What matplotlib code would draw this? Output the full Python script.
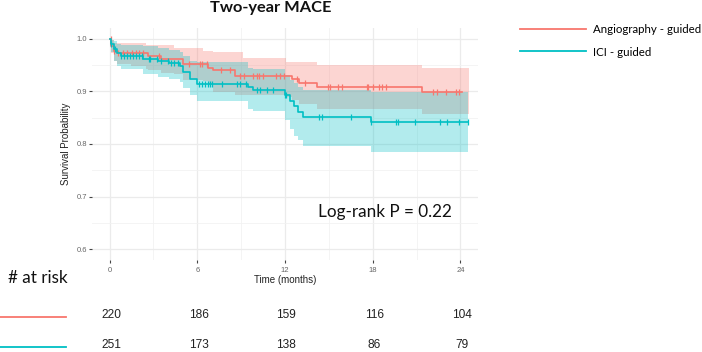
import numpy as np
import matplotlib
matplotlib.use("Agg")
import matplotlib.pyplot as plt
from matplotlib import transforms
from matplotlib.lines import Line2D

# ---- data ----
red_t = [0, 0.1, 0.3, 0.5, 1.5, 2.5, 2.6, 3.5, 4.4, 5.0, 6.4, 6.7, 7.1, 8.6, 9.1,
         12.1, 12.45, 12.95, 14.2, 21.4, 24.1]
red_surv = [1.0, 0.985, 0.977, 0.972, 0.972, 0.972, 0.966, 0.962, 0.962, 0.951, 0.951,
            0.945, 0.940, 0.929, 0.929, 0.929, 0.923, 0.916, 0.908, 0.898, 0.898]
red_upper = [1.0, 0.998, 0.992, 0.992, 0.992, 0.988, 0.988, 0.988, 0.983, 0.983, 0.977,
             0.977, 0.974, 0.974, 0.964, 0.955, 0.955, 0.955, 0.950, 0.944, 0.944]
red_lower = [1.0, 0.972, 0.958, 0.952, 0.948, 0.942, 0.940, 0.935, 0.933, 0.922, 0.920,
             0.912, 0.898, 0.893, 0.892, 0.890, 0.884, 0.875, 0.867, 0.857, 0.857]
red_ci_end = 24.6
red_cens = [0.07, 0.3, 0.6, 0.9, 1.2, 1.55, 1.8, 2.0, 2.3, 3.36, 5.4, 6.2, 6.3, 6.66,
            7.6, 8.25, 8.9, 9.2, 9.84, 10.07, 10.25, 10.5, 11.4, 11.66, 11.9, 12.8,
            13.36, 14.95, 15.05, 15.64, 15.9, 17.6, 17.7, 18.0, 18.4, 18.6, 18.9,
            22.1, 22.4, 23.0, 23.7, 23.9]

cyan_t = [0, 0.1, 0.3, 0.5, 0.75, 2.3, 3.3, 4.1, 4.8, 5.05, 5.5, 6.0, 9.5, 9.8,
          12.0, 12.35, 12.6, 12.9, 13.25, 17.9, 24.5]
cyan_surv = [1.0, 0.99, 0.98, 0.972, 0.967, 0.962, 0.958, 0.953, 0.948, 0.936, 0.923,
             0.914, 0.909, 0.903, 0.892, 0.882, 0.873, 0.860, 0.852, 0.842, 0.842]
cyan_upper = [1.0, 0.998, 0.995, 0.99, 0.988, 0.985, 0.982, 0.978, 0.975, 0.966, 0.958,
              0.955, 0.945, 0.942, 0.930, 0.922, 0.915, 0.908, 0.902, 0.898, 0.898]
cyan_lower = [1.0, 0.975, 0.958, 0.948, 0.942, 0.933, 0.928, 0.923, 0.918, 0.907, 0.892,
              0.881, 0.867, 0.863, 0.845, 0.829, 0.816, 0.807, 0.797, 0.785, 0.785]
cyan_ci_end = 24.5
cyan_cens = [0.1, 0.4, 0.8, 1.0, 1.2, 1.4, 1.6, 1.8, 2.0, 2.2, 2.7, 2.8, 3.25, 3.5,
             4.0, 4.2, 4.4, 4.7, 6.1, 6.3, 6.5, 6.7, 6.9, 7.0, 7.7, 8.7, 8.9, 9.3,
             10.07, 10.3, 10.75, 11.2, 12.0, 12.1, 14.3, 14.5, 16.5, 17.9, 19.6, 19.7,
             20.9, 22.6, 23.1, 23.9, 24.5]

groups = ["Angiography - guided", "ICI - guided"]
risk_times = [0, 6, 12, 18, 24]
risk_red = [220, 186, 159, 116, 104]
risk_cyan = [251, 173, 138, 86, 79]

RED = "#F8766D"
CYAN = "#00BFC4"
CAL = ["Lato", "DejaVu Sans"]
ARIAL = ["Liberation Sans", "DejaVu Sans"]

W, H = 702, 352
fig = plt.figure(figsize=(W / 100, H / 100), dpi=100)
ax = fig.add_axes([92 / W, 1 - 260 / H, 386 / W, 232 / H])


def surv_at(times, surv, x):
    idx = np.searchsorted(times, x, side="right") - 1
    return np.asarray(surv)[np.clip(idx, 0, len(surv) - 1)]


for t, s, lo, up, end, cens, col in [
    (red_t, red_surv, red_lower, red_upper, red_ci_end, red_cens, RED),
    (cyan_t, cyan_surv, cyan_lower, cyan_upper, cyan_ci_end, cyan_cens, CYAN),
]:
    tb = list(t) + [end]
    ax.fill_between(tb, list(lo) + [lo[-1]], list(up) + [up[-1]], step="post",
                    color=col, alpha=0.3, lw=0)
    ax.step(t, s, where="post", color=col, lw=1.2)
    ax.plot(cens, surv_at(t, s, cens), ls="none", marker="|", ms=4, mew=0.9, color=col)

ax.set_xlim(-1.2, 25.2)
ax.set_ylim(0.58, 1.02)
ax.set_xticks(risk_times)
ax.set_xticks([3, 9, 15, 21], minor=True)
ax.set_yticks([0.6, 0.7, 0.8, 0.9, 1.0])
ax.set_yticklabels(["0.6", "0.7", "0.8", "0.9", "1.0"])
ax.set_yticks([0.65, 0.75, 0.85, 0.95], minor=True)
ax.grid(which="major", color="#EBEBEB", lw=0.9)
ax.grid(which="minor", color="#F2F2F2", lw=0.6)
ax.set_axisbelow(True)
for sp in ax.spines.values():
    sp.set_visible(False)
ax.tick_params(which="major", length=2, width=0.8, color="#444444", pad=1.5,
               labelsize=5.5, labelcolor="#666666")
ax.tick_params(axis="x", which="major", pad=3)
ax.tick_params(which="minor", length=0)
for lab in ax.get_xticklabels() + ax.get_yticklabels():
    lab.set_family(ARIAL)
ax.set_xlabel("Time (months)", fontsize=7, family=ARIAL, color="#222222", labelpad=1)
ax.set_ylabel("Survival Probability", fontsize=7, family=ARIAL, color="#222222", labelpad=4)

ax.text(0.585, 0.207, "Log-rank P = 0.22", transform=ax.transAxes, fontsize=12.3,
        family=CAL, va="center", ha="left", color="#111111")

fig.text(271 / W, 1 - 11.7 / H, "Two-year MACE", fontsize=11.8, fontweight="bold",
         family=CAL, ha="center", va="baseline", color="#111111")

handles = [Line2D([], [], color=RED, lw=1.3), Line2D([], [], color=CYAN, lw=1.3)]
fig.legend(handles, groups, loc="upper left", bbox_to_anchor=(520 / W, 1 - 24 / H),
           frameon=False, prop={"family": CAL, "size": 8.3}, handlelength=5.7,
           handletextpad=0.6, labelspacing=1.0, borderaxespad=0, borderpad=0)

# number at risk table
fig.text(8 / W, 1 - 278 / H, "# at risk", fontsize=12.3, family=CAL, va="center",
         ha="left", color="#111111")
trans = transforms.blended_transform_factory(ax.transData, fig.transFigure)
for yy, col, vals in [(1 - 317 / H, RED, risk_red), (1 - 347 / H, CYAN, risk_cyan)]:
    fig.add_artist(Line2D([0, 66 / W], [yy, yy], color=col, lw=1.3,
                          transform=fig.transFigure))
    for tt, v in zip(risk_times, vals):
        fig.text(tt + 0.1, yy + 1.5 / H, str(v), transform=trans, ha="center",
                 va="center", fontsize=8.6, family=ARIAL, color="#222222")

fig.savefig("out.png", dpi=100)
